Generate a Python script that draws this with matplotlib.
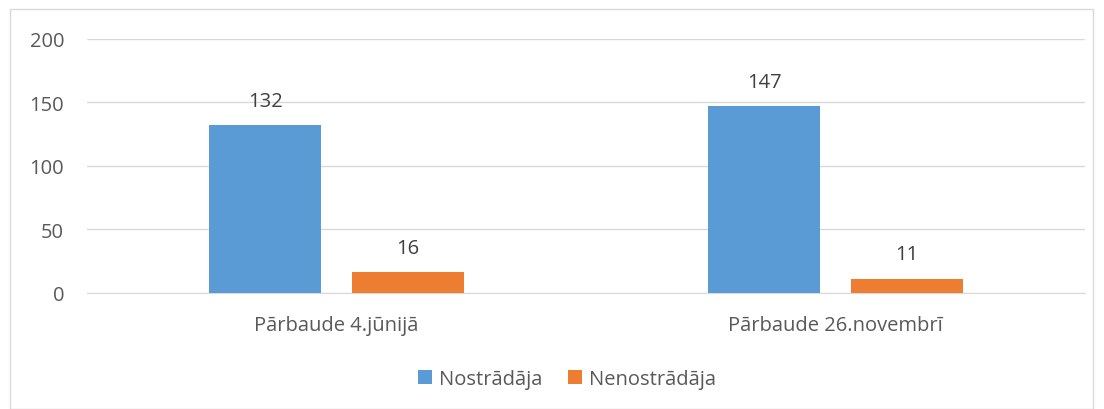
import matplotlib.pyplot as plt
import numpy as np
from matplotlib.patches import Rectangle

categories = ['Pārbaude 4.jūnijā', 'Pārbaude 26.novembrī']
series_names = ['Nostrādāja', 'Nenostrādāja']
nostradaja = [132, 147]
nenostradaja = [16, 11]
y_ticks = [0, 50, 100, 150, 200]

colors = ['#5B9BD5', '#ED7D31']
text_color = '#595959'

plt.rcParams['font.family'] = ['Open Sans', 'DejaVu Sans']


def main():
    W, H = 1104, 410
    fs = 14.5
    fig = plt.figure(figsize=(W / 100, H / 100), dpi=100)
    fig.patches.append(Rectangle((10 / W, 0), 1083 / W, 400 / H, transform=fig.transFigure,
                                 fill=False, edgecolor='#D9D9D9', linewidth=1))
    ax = fig.add_axes([87 / W, 1 - 293.5 / H, (1085 - 87) / W, (293.5 - 40) / H])

    x = np.arange(len(categories))
    width = 0.225
    offset = 0.143
    for vals, off, col, name in [(nostradaja, -offset, colors[0], series_names[0]),
                                 (nenostradaja, offset, colors[1], series_names[1])]:
        bars = ax.bar(x + off, vals, width, color=col, label=name, zorder=3)
        for b, v in zip(bars, vals):
            ax.text(b.get_x() + b.get_width() / 2, v + 19, str(v), ha='center', va='center',
                    fontsize=fs, color='#404040')

    ax.set_xlim(-0.5, 1.5)
    ax.set_ylim(0, 200)
    ax.set_yticks(y_ticks)
    ax.set_xticks(x)
    ax.set_xticklabels(categories)
    ax.tick_params(axis='both', length=0, labelsize=fs, labelcolor=text_color)
    ax.tick_params(axis='y', pad=16.5)
    ax.tick_params(axis='x', pad=16)
    ax.grid(axis='y', color='#D9D9D9', linewidth=1, zorder=0)
    for s in ['top', 'right', 'left']:
        ax.spines[s].set_visible(False)
    ax.spines['bottom'].set_color('#D9D9D9')

    fig.legend(loc='center', bbox_to_anchor=(567 / W, 1 - 380 / H), ncol=2, frameon=False,
               fontsize=fs, handlelength=0.7, handleheight=0.7, handletextpad=0.35,
               columnspacing=1.3, labelcolor=text_color)
    fig.savefig('out.png', dpi=100)


if __name__ == '__main__':
    main()
